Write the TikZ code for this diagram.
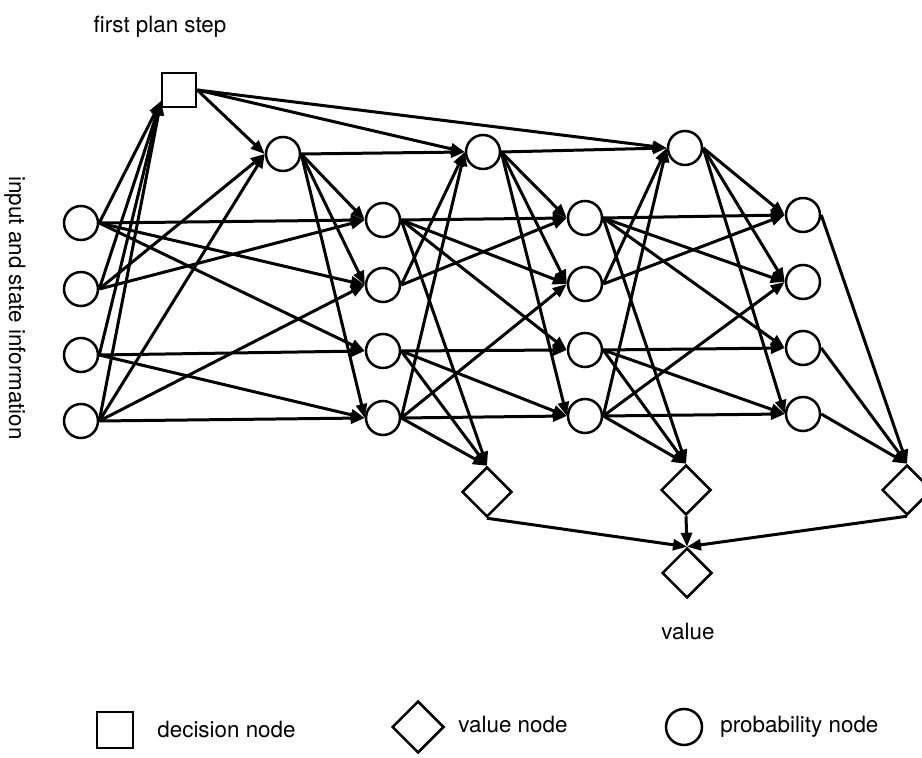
\documentclass[tikz,border=0pt]{standalone}
\usepackage{fontspec}
\setmainfont{TeX Gyre Heros}
\usetikzlibrary{arrows.meta,shapes.geometric}
\begin{document}
\begin{tikzpicture}[x=0.5pt,y=-0.5pt,
  prob/.style={circle,draw,line width=1.25pt,minimum size=17pt,inner sep=0pt},
  dec/.style={rectangle,draw,line width=1.25pt,minimum size=17pt,inner sep=0pt},
  val/.style={diamond,draw,line width=1.25pt,minimum width=25pt,minimum height=25pt,inner sep=0pt},
  link/.style={line width=1.5pt,-{Triangle[length=7pt,width=5.5pt]}},
  lbl/.style={font=\fontsize{11.2}{13}\selectfont,inner sep=0pt}
]
\useasboundingbox (0,0) rectangle (922,758);

% decision node
\node[dec] (D) at (179,90) {};
\coordinate (Din) at (161,101);

% input and state nodes
\node[prob] (I1) at (81,223) {};
\node[prob] (I2) at (81,289) {};
\node[prob] (I3) at (81,355) {};
\node[prob] (I4) at (81,421) {};

% top chain
\node[prob] (T1) at (283,154) {};
\node[prob] (T2) at (483,152) {};
\node[prob] (T3) at (685,148) {};

% probability columns
\node[prob] (A1) at (383,220) {};
\node[prob] (B1) at (383,285) {};
\node[prob] (C1) at (383,351) {};
\node[prob] (E1) at (383,418) {};

\node[prob] (A2) at (585,218) {};
\node[prob] (B2) at (585,284) {};
\node[prob] (C2) at (585,350) {};
\node[prob] (E2) at (585,416) {};

\node[prob] (A3) at (803,215) {};
\node[prob] (B3) at (803,282) {};
\node[prob] (C3) at (803,348) {};
\node[prob] (E3) at (803,414) {};

% value nodes
\node[val] (V1) at (487,492) {};
\node[val] (V2) at (686,490) {};
\node[val] (V3) at (907,490) {};
\node[val] (V) at (687,573) {};

% inputs to the decision
\foreach \s in {I1,I2,I3,I4}
  \draw[link] (\s.east) -- (Din);

% decision to top chain
\foreach \t in {T1,T2,T3}
  \draw[link] (D.east) -- (\t.west);

% links between circles
\foreach \s/\t in {
  I1/A1, I1/B1, I1/C1, I2/A1, I2/T1, I3/C1, I3/E1, I4/B1, I4/E1, I4/T1,
  T1/T2, T2/T3,
  T1/A1, T1/B1, T1/E1, T2/A2, T2/B2, T2/E2, T3/A3, T3/B3, T3/E3,
  A1/A2, A1/B2, A1/C2, B1/A2, B1/T2, C1/C2, C1/E2, E1/B2, E1/E2, E1/T2,
  A2/A3, A2/B3, A2/C3, B2/A3, B2/T3, C2/C3, C2/E3, E2/B3, E2/E3, E2/T3}
  \draw[link] (\s.east) -- (\t.west);

% links into the value nodes
\foreach \s/\t in {A1/V1, C1/V1, E1/V1, A2/V2, C2/V2, E2/V2, A3/V3, C3/V3, E3/V3}
  \draw[link] (\s.east) -- (\t.north);

\foreach \s in {V1,V2,V3}
  \draw[link] (\s.south) -- (V.north);

% labels
\node[lbl] at (160,27) {first plan step};
\node[lbl,rotate=-90] at (15,308) {input and state information};
\node[lbl] at (688,632) {value};

% legend
\node[dec,minimum size=18pt] (Ld) at (115,730) {};
\node[lbl,anchor=west] (Ldt) at (157,730) {decision node};
\node[val,minimum width=26pt,minimum height=26pt] (Lv) at (418,727) {};
\node[lbl,anchor=west] (Lvt) at (458,725) {value node};
\node[prob,minimum size=18pt] (Lp) at (684,727) {};
\node[lbl,anchor=west] (Lpt) at (720,727) {probability node};
\end{tikzpicture}
\end{document}
